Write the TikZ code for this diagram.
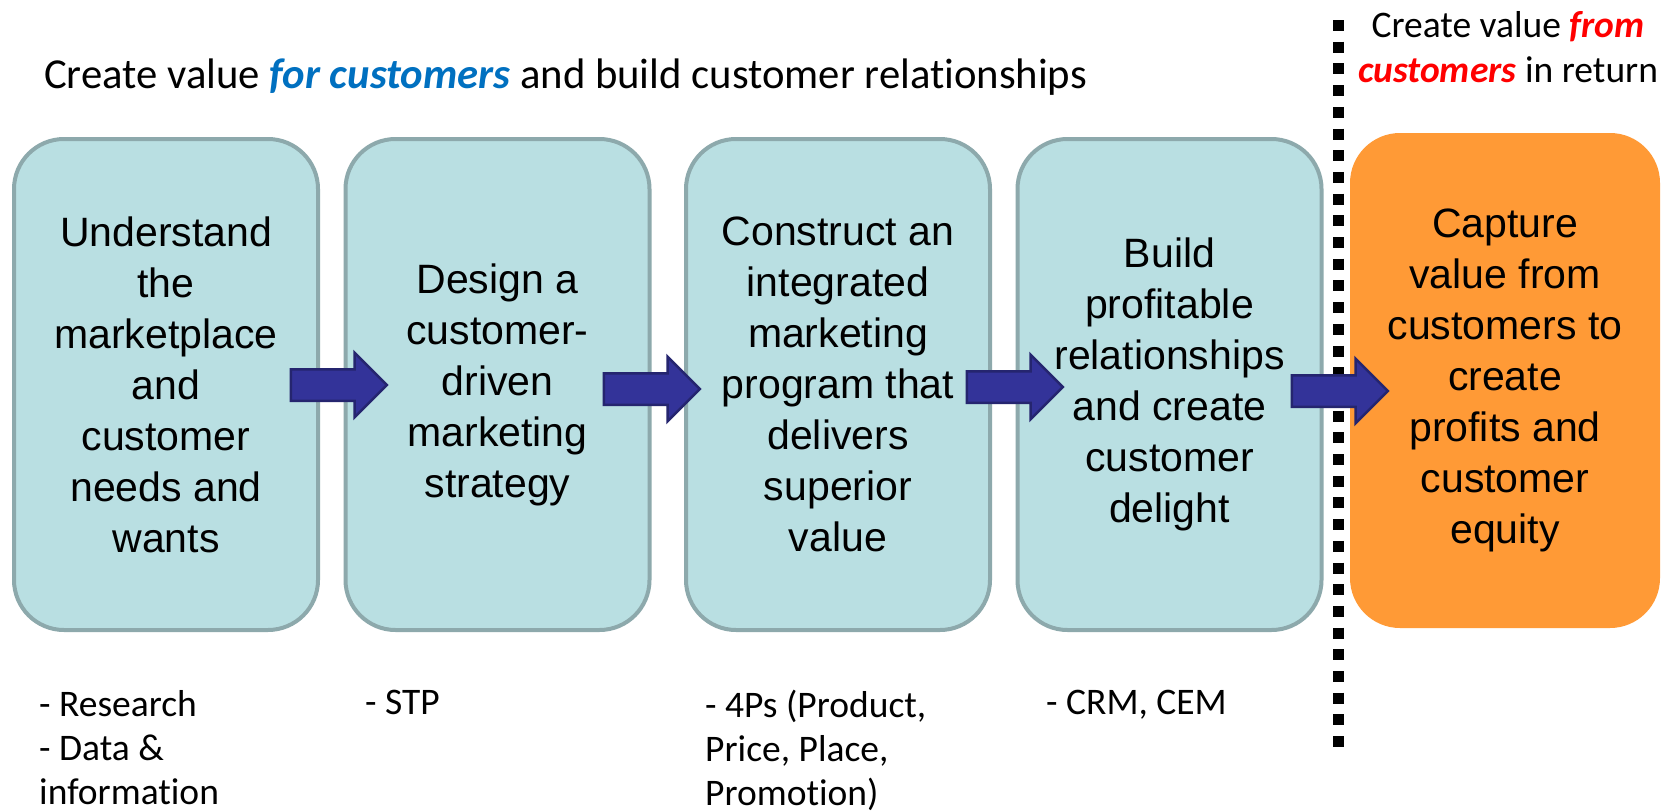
\documentclass[tikz,border=0pt]{standalone}
\usepackage{fontspec}
\setmainfont{Liberation Sans}
\newfontfamily\carl[Ligatures=NoCommon]{Carlito}
\usetikzlibrary{shapes.arrows}
\definecolor{boxfill}{HTML}{B9DFE2}
\definecolor{boxline}{HTML}{8DA9AC}
\definecolor{orng}{HTML}{FF9A36}
\definecolor{arrfill}{HTML}{333399}
\definecolor{arrline}{HTML}{25256F}
\definecolor{bluetxt}{HTML}{0070C0}
\definecolor{redtxt}{HTML}{FF0000}
\tikzset{
  stagebox/.style={draw=boxline, fill=boxfill, line width=4pt, rounded corners=50pt,
    minimum width=304pt, minimum height=491pt, align=center, inner sep=0pt,
    font=\fontsize{41}{51}\selectfont},
  capturebox/.style={fill=orng, rounded corners=50pt,
    minimum width=310pt, minimum height=495pt, align=center, inner sep=0pt,
    font=\fontsize{41}{51}\selectfont},
  barrow/.style={single arrow, draw=arrline, fill=arrfill, line width=2.5pt,
    minimum height=96pt, minimum width=62pt, single arrow head extend=16.5pt,
    inner xsep=0pt, inner ysep=14.5pt},
  note/.style={anchor=north west, align=left, inner sep=0pt,
    font=\carl\fontsize{37.5}{44}\selectfont},
  dotline/.style={line width=11pt, dash pattern=on 11pt off 10.7pt}
}
\begin{document}
\begin{tikzpicture}[x=1pt,y=-1pt]
\useasboundingbox (0,0) rectangle (1668,811);
\fill[white] (0,0) rectangle (1668,811);

\node[anchor=base west, inner sep=0pt, font=\carl\fontsize{42.7}{50}\selectfont] (title) at (44,88)
  {Create value \textcolor{bluetxt}{\textbf{\textit{for customers}}} and build customer relationships};
\node[anchor=north, align=center, inner sep=0pt, font=\carl\fontsize{37.5}{45}\selectfont] (title2) at (1508,11)
  {Create value \textcolor{redtxt}{\textbf{\textit{from}}}\\\textcolor{redtxt}{\textbf{\textit{customers}}} in return};

\coordinate (d1) at (1338.5,20);
\coordinate (d2) at (1338.5,748);
\draw[dotline] (d1) -- (d2);

\node[stagebox] (b1) at (166,384.5) {Understand\\the\\marketplace\\and\\customer\\needs and\\wants};
\node[stagebox] (b2) at (497.5,384.5) {Design a\\customer-\\driven\\marketing\\strategy};
\node[stagebox] (b3) at (838,384.5) {Construct an\\integrated\\marketing\\program that\\delivers\\superior\\value};
\node[stagebox] (b4) at (1169.5,384.5) {Build\\profitable\\relationships\\and create\\customer\\delight};
\node[capturebox] (b5) at (1505,380.5) {Capture\\value from\\customers to\\create\\profits and\\customer\\equity};

\node[barrow] (a1) at (331,385) {};
\node[barrow] (a2) at (644,389) {};
\node[barrow] (a3) at (1007,387) {};
\node[barrow] (a4) at (1332,391) {};

\node[note] (n1) at (39,690) {- Research\\- Data \&\\information};
\node[note] (n2) at (365,690) {- STP};
\node[note] (n3) at (705,690) {- 4Ps (Product,\\Price, Place,\\Promotion)};
\node[note] (n4) at (1046,690) {- CRM, CEM};
\end{tikzpicture}
\end{document}
